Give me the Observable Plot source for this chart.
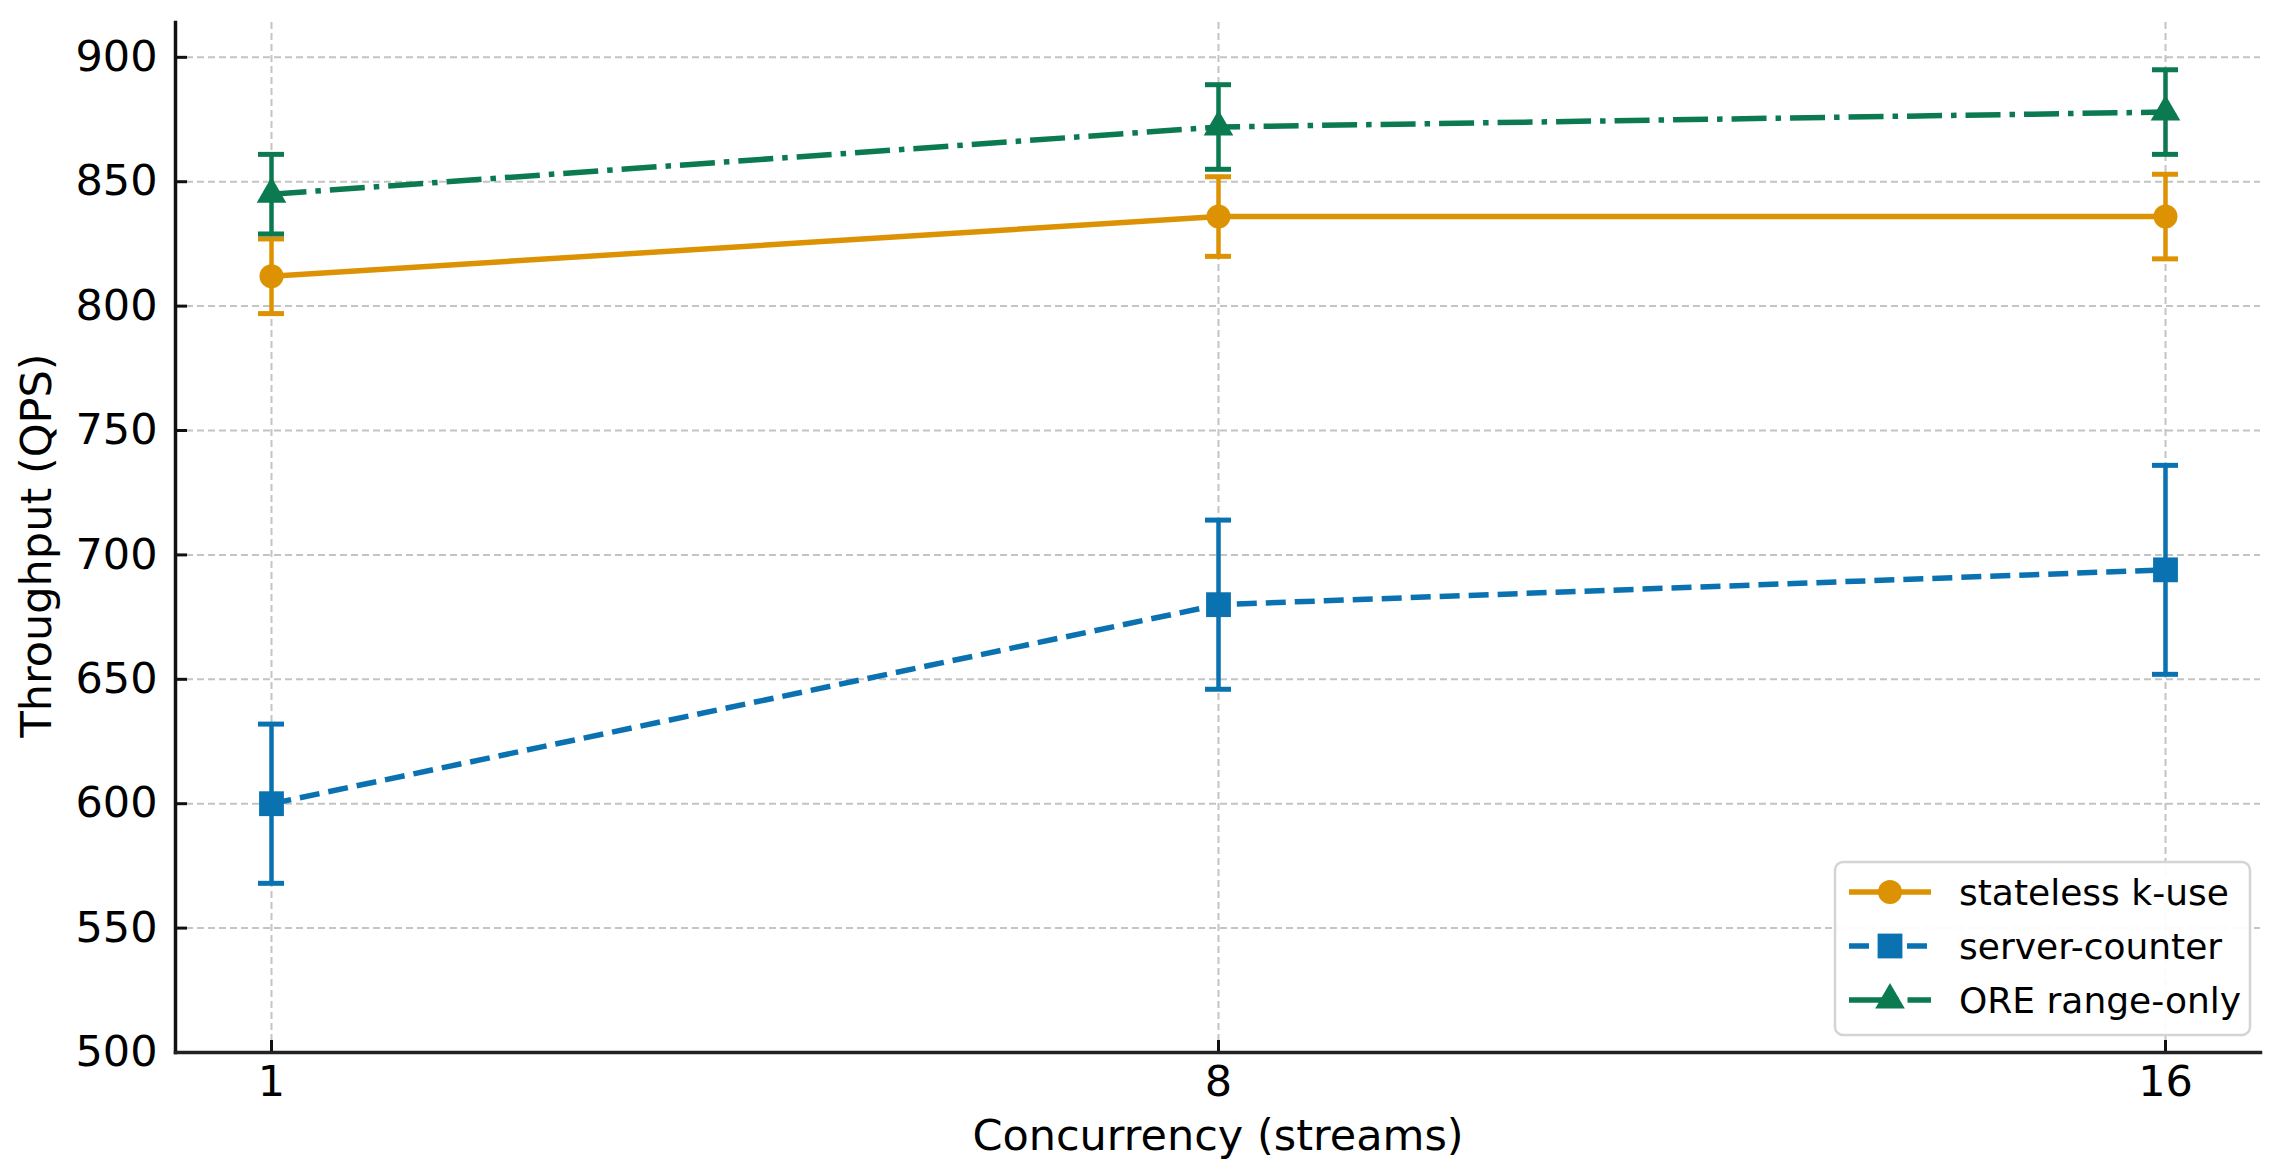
<!DOCTYPE html>
<html><head><meta charset="utf-8">
<script src="https://cdn.jsdelivr.net/npm/d3@7"></script>
<script src="https://cdn.jsdelivr.net/npm/@observablehq/plot@0.6"></script>
<style>
html,body{margin:0;padding:0;background:#fff;}
#wrap{position:relative;width:2289px;height:1176px;overflow:hidden;}
</style></head><body><div id="wrap"></div>
<script>
// ---- data ----
const concurrency = [1, 8, 16];
const seriesNames = ["stateless k-use", "server-counter", "ORE range-only"];
const statelessMean = [812, 836, 836];
const statelessErr = [15, 16, 17];
const serverMean = [600, 680, 694];
const serverErr = [32, 34, 42];
const oreMean = [845, 872, 878];
const oreErr = [16, 17, 17];
const yTicks = [500, 550, 600, 650, 700, 750, 800, 850, 900];
const xLabel = "Concurrency (streams)";
const yLabel = "Throughput (QPS)";

// ---- layout / style ----
const W = 2289, H = 1176, mL = 175, mR = 29, mT = 22, mB = 124;
const frameW = W - mL - mR, frameH = H - mT - mB;
const FONT = "DejaVu Sans";
const styles = [
  {color: "#DC9203", dash: null, symbol: "circle", r: 12},
  {color: "#0A72B0", dash: "20,9", symbol: "square", r: 14},
  {color: "#0B7A51", dash: "35,9,5.5,9", symbol: "triangle", r: 11}
];
const means = [statelessMean, serverMean, oreMean];
const errs = [statelessErr, serverErr, oreErr];

const seriesRows = seriesNames.map((name, s) =>
  concurrency.map((c, i) => ({
    series: name, x: c, y: means[s][i],
    lo: means[s][i] - errs[s][i], hi: means[s][i] + errs[s][i]
  }))
);

const marks = [
  Plot.gridY(yTicks, {stroke: "#c4c4c4", strokeOpacity: 1, strokeWidth: 2, strokeDasharray: "7,4"}),
  Plot.gridX(concurrency, {stroke: "#c4c4c4", strokeOpacity: 1, strokeWidth: 2, strokeDasharray: "7,4"}),
  Plot.axisY({ticks: yTicks, tickSize: 0, tickPadding: 18, fontSize: 43, label: null}),
  Plot.axisX({tickSize: 0, tickPadding: 13, fontSize: 43, label: null}),
  Plot.tickY(yTicks, {y: d => d, insetRight: frameW - 12, stroke: "#111", strokeWidth: 3}),
  Plot.tickX(concurrency, {x: d => d, insetTop: frameH - 12, stroke: "#111", strokeWidth: 3}),
  Plot.frame({anchor: "left", stroke: "#111", strokeWidth: 3.5}),
  Plot.frame({anchor: "bottom", stroke: "#222", strokeWidth: 3.5}),
  Plot.text([xLabel], {text: d => d, frameAnchor: "bottom", lineAnchor: "middle", textAnchor: "middle", dy: 84, fontSize: 43, fill: "#000"}),
  Plot.text([yLabel], {text: d => d, frameAnchor: "left", lineAnchor: "middle", textAnchor: "middle", dx: -138, dy: 8, rotate: -90, fontSize: 43, fill: "#000"})
];

seriesRows.forEach((rows, s) => {
  const st = styles[s];
  marks.push(
    Plot.line(rows, {x: "x", y: "y", stroke: st.color, strokeWidth: 5.5, strokeDasharray: st.dash, strokeLinecap: "butt"}),
    Plot.ruleX(rows, {x: "x", y1: "lo", y2: "hi", stroke: st.color, strokeWidth: 4.5}),
    Plot.ruleY(rows, {x1: "x", x2: "x", y: "hi", insetLeft: -13, insetRight: -13, stroke: st.color, strokeWidth: 5}),
    Plot.ruleY(rows, {x1: "x", x2: "x", y: "lo", insetLeft: -13, insetRight: -13, stroke: st.color, strokeWidth: 5}),
    Plot.dot(rows, {x: "x", y: "y", symbol: st.symbol, r: st.r, fill: st.color, stroke: "none"})
  );
});

const chart = Plot.plot({
  width: W, height: H,
  marginLeft: mL, marginRight: mR, marginTop: mT, marginBottom: mB,
  style: {fontFamily: FONT, fontSize: "43px", color: "#000", background: "#fff"},
  x: {type: "point", domain: concurrency, padding: 0.1},
  y: {domain: [500, 914]},
  marks
});
const wrap = document.getElementById("wrap");
wrap.appendChild(chart);

// ---- legend (overlay inside the plot area) ----
const leg = d3.create("svg").attr("width", W).attr("height", H)
  .style("position", "absolute").style("left", "0px").style("top", "0px")
  .style("font-family", FONT);
leg.append("rect").attr("x", 1835).attr("y", 862).attr("width", 415).attr("height", 173)
  .attr("rx", 8).attr("fill", "#fff").attr("fill-opacity", 0.92)
  .attr("stroke", "#d4d4d4").attr("stroke-width", 2.5);
const rowY = [892, 946, 1000];
seriesNames.forEach((name, s) => {
  const st = styles[s], y = rowY[s];
  leg.append("line").attr("x1", 1849).attr("x2", 1931).attr("y1", y).attr("y2", y)
    .attr("stroke", st.color).attr("stroke-width", 5.5)
    .attr("stroke-dasharray", st.dash);
  const sym = {circle: d3.symbolCircle, square: d3.symbolSquare, triangle: d3.symbolTriangle}[st.symbol];
  leg.append("path").attr("transform", `translate(1890,${y})`)
    .attr("d", d3.symbol(sym, Math.PI * st.r * st.r)()).attr("fill", st.color);
  leg.append("text").attr("x", 1959).attr("y", y).attr("dy", "0.35em")
    .attr("font-size", 36).attr("fill", "#000").text(name);
});
wrap.appendChild(leg.node());
</script></body></html>
